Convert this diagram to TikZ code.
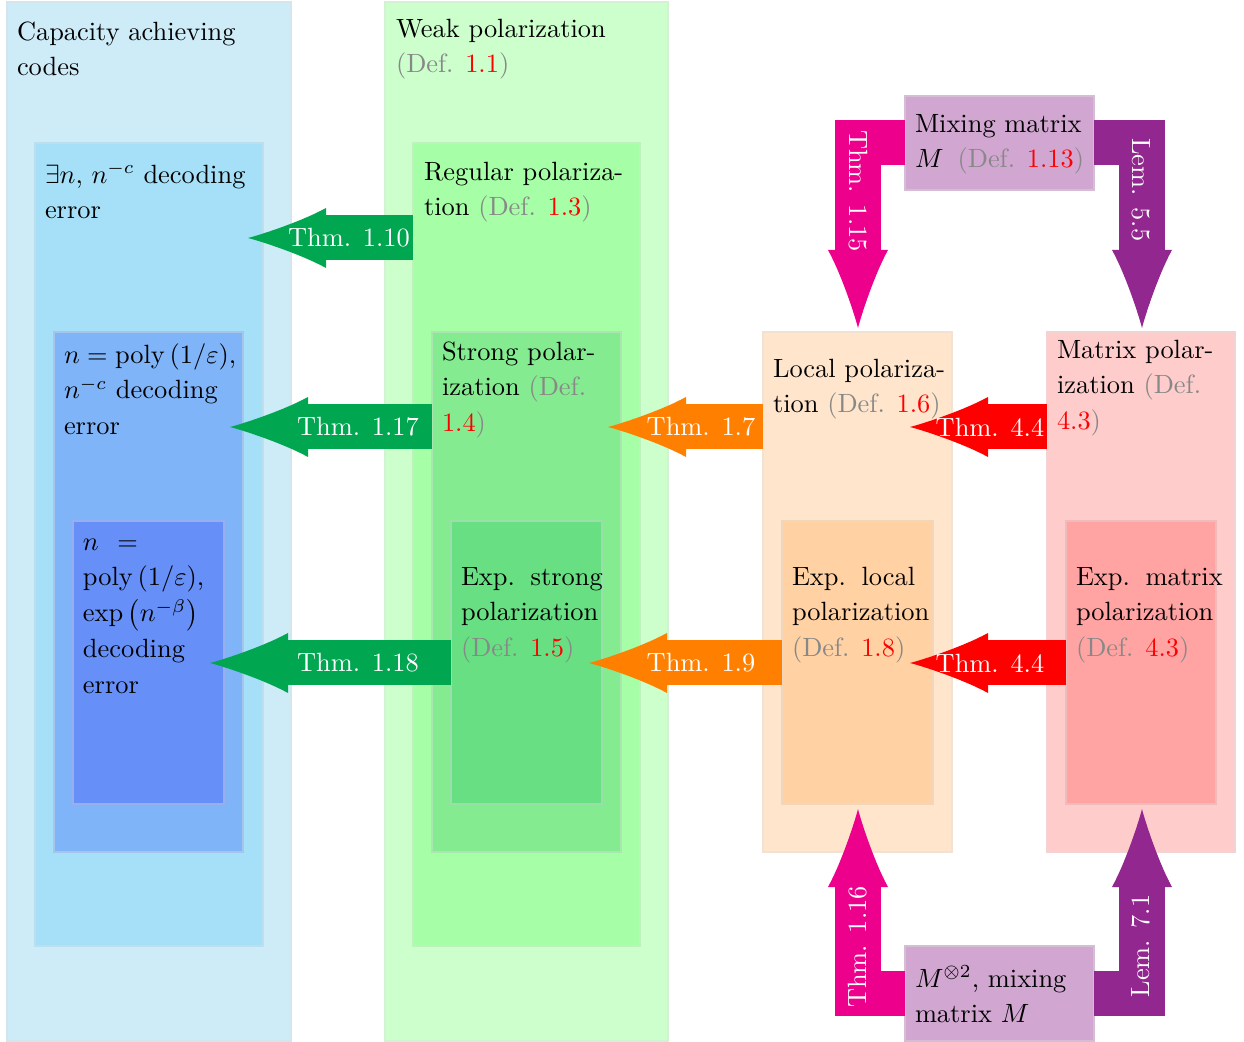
\documentclass[tikz,border=0pt]{standalone}
\usepackage{amsmath}
\usetikzlibrary{arrows.meta,fit}
\definecolor{cA}{HTML}{CDECF8}
\definecolor{cB}{HTML}{A6E0F8}
\definecolor{cC}{HTML}{80B4F8}
\definecolor{cD}{HTML}{6690F8}
\definecolor{gA}{HTML}{CCFFCC}
\definecolor{gB}{HTML}{A6FFA6}
\definecolor{gC}{HTML}{85EB90}
\definecolor{gD}{HTML}{68DF83}
\definecolor{oA}{HTML}{FFE5CC}
\definecolor{oB}{HTML}{FFD1A3}
\definecolor{rA}{HTML}{FFCCCC}
\definecolor{rB}{HTML}{FFA3A3}
\definecolor{pA}{HTML}{D1A6D1}
\definecolor{arG}{HTML}{00A650}
\definecolor{arO}{HTML}{FF8000}
\definecolor{arR}{HTML}{FF0000}
\definecolor{arM}{HTML}{EC008C}
\definecolor{arP}{HTML}{92278F}
\definecolor{dgray}{HTML}{888888}
\newcommand\mydef[1]{\textcolor{dgray}{(Def. \textcolor{red}{#1})}}
\begin{document}
\begin{tikzpicture}[x=0.3788pt,y=-0.3788pt,
  box/.style={inner sep=0pt,outer sep=0pt,fill=#1,draw=#1!85!gray!70!white,line width=0.4pt},
  txt/.style={anchor=north west,inner sep=0pt,outer sep=0pt,align=left,font=\fontsize{10}{13.6}\selectfont},
  lab/.style={text=white,inner sep=0pt,font=\fontsize{10}{13.6}\selectfont},
  arr/.style={line width=17.05pt,line join=miter,-{Latex[length=29.55pt,width=22.73pt,line width=0pt]}}]
\useasboundingbox (0,0) rectangle (1244,1042);
% boxes
\node[box=cA,fit={(7,2) (291,1041)}] (cap) {};
\node[box=cB,fit={(35,143) (263,946)}] (ex) {};
\node[box=cC,fit={(54,332) (243,852)}] (poly) {};
\node[box=cD,fit={(73,521) (224,804)}] (expb) {};
\node[box=gA,fit={(385,2) (668,1041)}] (weak) {};
\node[box=gB,fit={(413,143) (640,946)}] (reg) {};
\node[box=gC,fit={(432,332) (621,852)}] (str) {};
\node[box=gD,fit={(451,521) (602,804)}] (estr) {};
\node[box=oA,fit={(763,332) (952,852)}] (loc) {};
\node[box=oB,fit={(782,521) (933,804)}] (eloc) {};
\node[box=rA,fit={(1047,332) (1235,852)}] (mat) {};
\node[box=rB,fit={(1066,521) (1216,804)}] (emat) {};
\node[box=pA,fit={(905,96) (1094,190)}] (mix) {};
\node[box=pA,fit={(905,946) (1094,1041)}] (mtwo) {};
% arrow tips
\coordinate (t110) at (248,238);
\coordinate (t117) at (230,427);
\coordinate (t118) at (210,663);
\coordinate (t17) at (608,427);
\coordinate (t19) at (589,663);
\coordinate (t44a) at (910,427);
\coordinate (t44b) at (910,663);
\coordinate (t115) at (858,328);
\coordinate (t55) at (1142,328);
\coordinate (t116) at (858,809);
\coordinate (t71) at (1142,809);
% arrows
\draw[arr,arG] (reg.west |- t110) -- (t110) node[lab] at (349,238) {Thm. 1.10};
\draw[arr,arG] (str.west |- t117) -- (t117) node[lab] at (358,427) {Thm. 1.17};
\draw[arr,arG] (estr.west |- t118) -- (t118) node[lab] at (358,663) {Thm. 1.18};
\draw[arr,arO] (loc.west |- t17) -- (t17) node[lab] at (701,427) {Thm. 1.7};
\draw[arr,arO] (eloc.west |- t19) -- (t19) node[lab] at (701,663) {Thm. 1.9};
\draw[arr,arR] (mat.west |- t44a) -- (t44a) node[lab] at (990,427) {Thm. 4.4};
\draw[arr,arR] (emat.west |- t44b) -- (t44b) node[lab] at (990,663) {Thm. 4.4};
\draw[arr,arM] (mix.west) -| (t115) node[lab,rotate=-90] at (858,191) {Thm. 1.15};
\draw[arr,arP] (mix.east) -| (t55) node[lab,rotate=-90] at (1141,190) {Lem. 5.5};
\draw[arr,arM] (mtwo.west) -| (t116) node[lab,rotate=90] at (858,947) {Thm. 1.16};
\draw[arr,arP] (mtwo.east) -| (t71) node[lab,rotate=90] at (1141,946) {Lem. 7.1};
% texts
\node[txt] (capT) at (17,14.9) {\strut Capacity achieving\\codes};
\node[txt] (weakT) at (396,11.9) {\strut Weak polarization\\\mydef{1.1}};
\node[txt] (exT) at (45,157.9) {\strut $\exists n$, $n^{-c}$ decoding\\error};
\node[txt] (regT) at (424,154.9) {\strut Regular polariza-\\tion \mydef{1.3}};
\node[txt] (polyT) at (64,337.9) {\strut $n=\operatorname{poly}\left(1/\varepsilon\right)$,\\$n^{-c}$ decoding\\error};
\node[txt] (expT) at (83,524.9) {\strut $n\hspace{4.2pt}=$\\$\operatorname{poly}\left(1/\varepsilon\right)$,\\$\exp\left(n^{-\beta}\right)$\\decoding\\error};
\node[txt] (strT) at (442,334.9) {\strut Strong polar-\\ization \textcolor{dgray}{(Def.}\\\textcolor{red}{1.4}\textcolor{dgray}{)}};
\node[txt] (estrT) at (461,559.9) {\strut Exp.\hspace{1.5pt} strong\\polarization\\\mydef{1.5}};
\node[txt] (locT) at (773,351.9) {\strut Local polariza-\\tion \mydef{1.6}};
\node[txt] (elocT) at (792,559.9) {\strut Exp.\hspace{1.5pt} local\\polarization\\\mydef{1.8}};
\node[txt] (matT) at (1057,332.9) {\strut Matrix polar-\\ization \textcolor{dgray}{(Def.}\\\textcolor{red}{4.3}\textcolor{dgray}{)}};
\node[txt] (ematT) at (1076,559.9) {\strut Exp.\hspace{1.5pt} matrix\\polarization\\\mydef{4.3}};
\node[txt] (mixT) at (915,106.9) {\strut Mixing matrix\\$M$\hspace{2pt} \mydef{1.13}};
\node[txt] (mtwoT) at (915,961.9) {\strut $M^{\otimes 2}$, mixing\\matrix $M$};
\end{tikzpicture}
\end{document}
